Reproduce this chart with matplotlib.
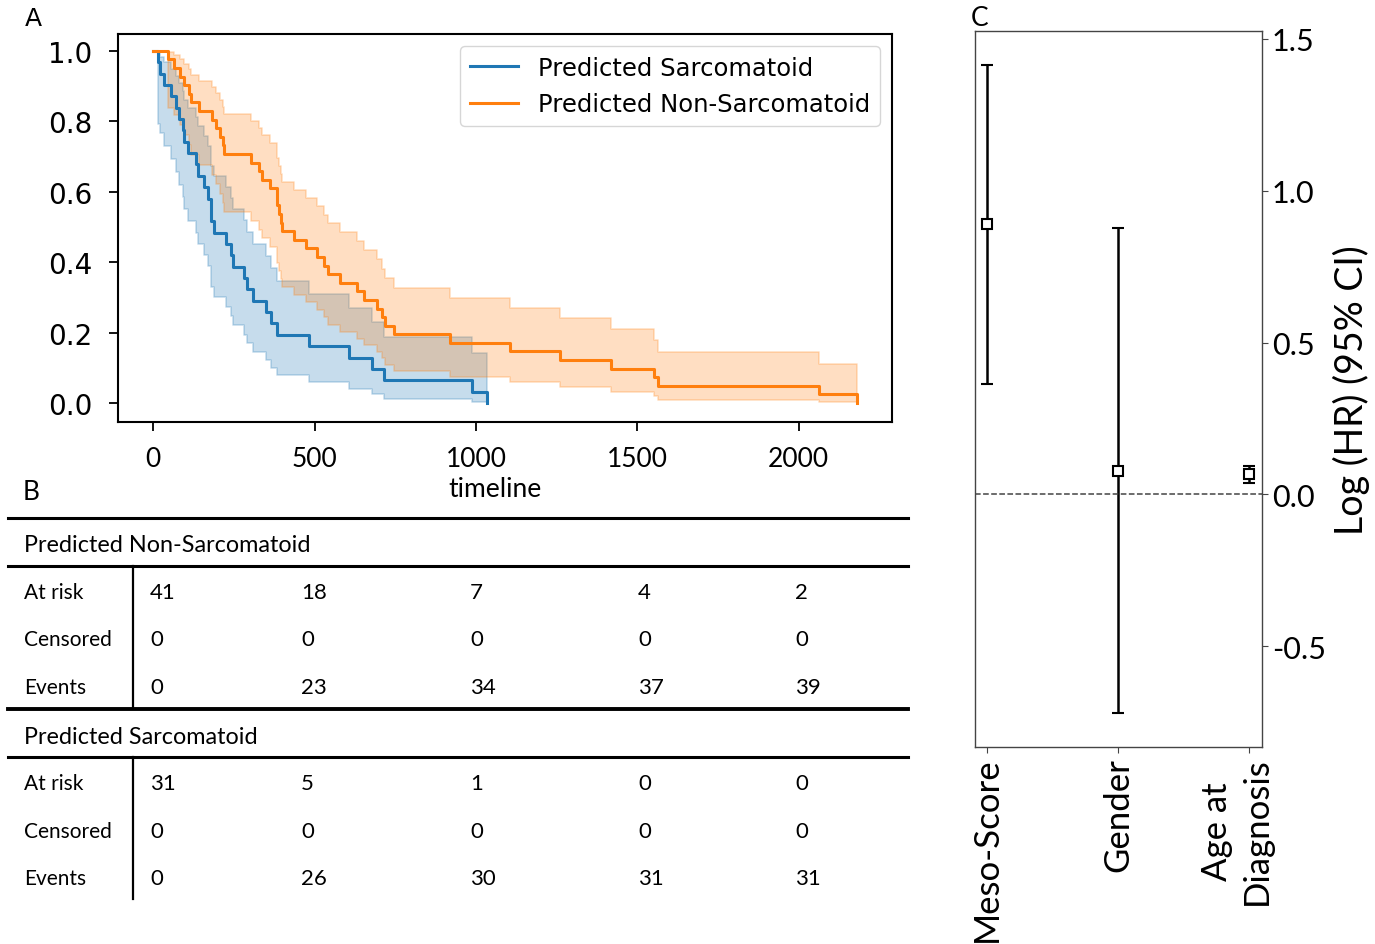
import numpy as np
import matplotlib
matplotlib.use("Agg")
import matplotlib.pyplot as plt
import matplotlib.transforms as mtransforms

plt.rcParams["axes.unicode_minus"] = False
SANS2 = ["Lato", "DejaVu Sans"]

# ---------------- data ----------------
# survival times (days) read off the Kaplan-Meier steps, nobody censored
sarc_times = [14, 22, 35, 55, 71, 81, 91, 97, 107, 133, 138, 158, 169, 179, 179, 189,
              225, 241, 246, 282, 292, 308, 349, 364, 385, 482, 606, 678, 714, 987, 1033]
nonsarc_times = [45, 66, 84, 97, 110, 117, 143, 181, 195, 208, 215, 220, 303, 328, 338,
                 362, 385, 385, 390, 395, 398, 436, 472, 508, 530, 542, 580, 632, 652,
                 693, 709, 719, 745, 920, 1105, 1259, 1419, 1552, 1563, 2062, 2180]

# at-risk table (panel B)
table_times = [0, 500, 1000, 1500, 2000]
nonsarc_at_risk = [41, 18, 7, 4, 2]
nonsarc_censored = [0, 0, 0, 0, 0]
nonsarc_events = [0, 23, 34, 37, 39]
sarc_at_risk = [31, 5, 1, 0, 0]
sarc_censored = [0, 0, 0, 0, 0]
sarc_events = [0, 26, 30, 31, 31]

# Cox model (panel C)
covariates = ["Meso-Score", "Gender", "Age at\nDiagnosis"]
log_hr = [0.891, 0.078, 0.066]
log_hr_lo = [0.365, -0.720, 0.036]
log_hr_hi = [1.415, 0.877, 0.094]


def kaplan_meier(durations):
    t = np.sort(np.asarray(durations, float))
    uniq, d = np.unique(t, return_counts=True)
    n = len(t) - np.concatenate([[0], np.cumsum(d)[:-1]])
    s = np.cumprod(1 - d / n)
    with np.errstate(divide="ignore", invalid="ignore"):
        cum = np.cumsum(d / (n * (n - d)))
        v = np.log(s)
        z = 1.959964
        lo = np.exp(-np.exp(np.log(-v) + z * np.sqrt(cum) / -v))
        hi = np.exp(-np.exp(np.log(-v) - z * np.sqrt(cum) / -v))
    # band is undefined once S hits 0
    lo[-1], hi[-1] = lo[-2], hi[-2]
    x = np.concatenate([[0], uniq])
    return x, np.concatenate([[1], s]), np.concatenate([[1], lo]), np.concatenate([[1], hi])


fig = plt.figure(figsize=(13.75, 9.45), dpi=100)
W, H = 1375, 945

# ---------------- panel A ----------------
ax = fig.add_axes([118 / W, 1 - 423 / H, (892 - 118) / W, (423 - 35) / H])
for lab, times, col in [("Predicted Sarcomatoid", sarc_times, "#1f77b4"),
                        ("Predicted Non-Sarcomatoid", nonsarc_times, "#ff7f0e")]:
    x, s, lo, hi = kaplan_meier(times)
    ax.plot(x, s, drawstyle="steps-post", color=col, lw=2.2, label=lab)
    ax.fill_between(x, lo, hi, step="post", color=col, alpha=0.25, lw=1.2)
ax.set_xlim(-109, 2289)
ax.set_ylim(-0.054, 1.048)
ax.set_xticks(table_times)
ax.set_yticks([0, 0.2, 0.4, 0.6, 0.8, 1.0])
ax.tick_params(axis="y", labelsize=20, length=6.5, width=1.3, pad=12)
ax.tick_params(axis="x", labelsize=19, length=6.5, width=1.3, pad=11)
for t in ax.get_xticklabels():
    t.set_family(SANS2)
for sp in ax.spines.values():
    sp.set_linewidth(1.5)
ax.set_xlabel("timeline", family=SANS2, fontsize=19, labelpad=2)
ax.xaxis.set_label_coords((495 - 118) / 774, -0.14)
ax.legend(loc="upper right", fontsize=17.5)

# ---------------- panel C ----------------
axc = fig.add_axes([975 / W, 1 - 748 / H, (1262 - 975) / W, (748 - 32) / H])
xc = np.arange(len(covariates))
hr = np.array(log_hr)
axc.errorbar(xc, hr, yerr=[hr - np.array(log_hr_lo), np.array(log_hr_hi) - hr],
             fmt="s", mfc="white", mec="black", mew=1.5, ms=6.5,
             ecolor="black", elinewidth=1.8, capsize=4, capthick=1.8)
axc.axhline(0, ls="--", color="#444444", lw=1.1)
axc.set_xlim(-0.092, 2.1)
axc.set_ylim(-0.832, 1.526)
axc.yaxis.tick_right()
axc.yaxis.set_label_position("right")
axc.tick_params(length=4, color="#444444", pad=3)
axc.set_yticks([-0.5, 0.0, 0.5, 1.0, 1.5])
axc.set_yticklabels([f"{v:.1f}" for v in [-0.5, 0.0, 0.5, 1.0, 1.5]], family=SANS2, fontsize=22)
axc.set_xticks(xc)
axc.set_xticklabels(covariates, rotation=90, family=SANS2, fontsize=25, linespacing=1.3)
# the two-line label sits a little left of its tick in the original
lab_shift = mtransforms.ScaledTranslation(-12 / 100, 0, fig.dpi_scale_trans)
lab3 = axc.xaxis.get_major_ticks()[2].label1
lab3.set_transform(lab3.get_transform() + lab_shift)
axc.set_ylabel("Log (HR) (95% CI)", family=SANS2, fontsize=27, labelpad=5)
for sp in axc.spines.values():
    sp.set_color("#444444")
    sp.set_linewidth(1.0)

# ---------------- panel B (table) + panel letters ----------------
axt = fig.add_axes([0, 0, 1, 1], zorder=-1)
axt.set_xlim(0, W)
axt.set_ylim(H, 0)
axt.axis("off")
fig.text(25 / W, 1 - 19 / H, "A", fontsize=18, va="center")
fig.text(23 / W, 1 - 492 / H, "B", family=SANS2, fontsize=19, va="center")
fig.text(971 / W, 1 - 19 / H, "C", family=SANS2, fontsize=19, va="center")

col_x = [150, 301, 470, 638, 795]
groups = [("Predicted Non-Sarcomatoid", nonsarc_at_risk, nonsarc_censored, nonsarc_events, 519),
          ("Predicted Sarcomatoid", sarc_at_risk, sarc_censored, sarc_events, 710)]
for gi, (name, risk, cens, ev, ytop) in enumerate(groups):
    axt.plot([8, 908], [ytop, ytop], color="black", lw=2.2 if gi == 0 else 2.8)
    axt.plot([8, 908], [ytop + 48, ytop + 48], color="black", lw=2.2)
    axt.plot([133, 133], [ytop + 48, ytop + 190], color="black", lw=1.6)
    axt.text(24, ytop + 27, name, family=SANS2, fontsize=16.8, va="center")
    for ri, (rlab, vals) in enumerate([("At risk", risk), ("Censored", cens), ("Events", ev)]):
        yy = ytop + 74 + ri * 47.5
        axt.text(24, yy, rlab, family=SANS2, fontsize=15, va="center")
        for cx, v in zip(col_x, vals):
            axt.text(cx, yy, str(v), family=SANS2, fontsize=16, va="center")

fig.savefig("out.png", dpi=100)
